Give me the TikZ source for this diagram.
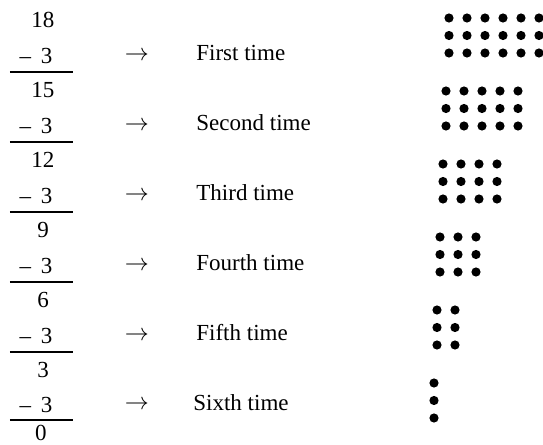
\documentclass[tikz,border=0pt]{standalone}
\usepackage{fontspec}
\setmainfont{Liberation Serif}
\usetikzlibrary{positioning}

\begin{document}
\begin{tikzpicture}[x=0.5pt, y=-0.5pt,
  num/.style={font=\fontsize{11.5}{13}\selectfont, inner sep=0pt},
  arr/.style={font=\fontsize{11.5}{13}\selectfont, inner sep=0pt},
  lbl/.style={font=\fontsize{11.5}{13}\selectfont, inner sep=0pt, anchor=west},
  rule/.style={line width=0.6pt},
  dot/.style={fill=black}]
  \useasboundingbox (0,0) rectangle (543,445);
  % column of subtractions
  \node[num] (n0) at (43,20) {18};
  \foreach \i/\n/\w in {1/15/First, 2/12/Second, 3/9/Third,
                        4/6/Fourth, 5/3/Fifth} {
    \node[num] (s\i) at (36,{56+70*(\i-1)}) {– \,3};
    \draw[rule] (10,{72+70*(\i-1)}) -- (73,{72+70*(\i-1)});
    \node[num] (n\i) at (43,{20+70*\i}) {\n};
    \node[arr] (a\i) at (137,{56+70*(\i-1)}) {$\rightarrow$};
    \node[lbl] (t\i) at (196,{53+70*(\i-1)}) {\w\ time};
  }
  \node[num] (s6) at (36,405) {– \,3};
  \draw[rule] (10,420) -- (73,420);
  \node[num] (n6) at (41,433) {0};
  \node[arr] (a6) at (137,405) {$\rightarrow$};
  \node[lbl] (t6) at (193,403) {Sixth time};
  % dot groups, three rows each
  \foreach \i in {1,...,6} {
    \pgfmathtruncatemacro{\cols}{7-\i}
    \foreach \c in {1,...,\cols} {
      \foreach \r in {0,1,2} {
        \fill[dot] ({449-3*(\i-1)+18*(\c-1)},{18+73*(\i-1)+17.5*\r}) circle[radius=2.3pt];
      }
    }
  }
\end{tikzpicture}
\end{document}
